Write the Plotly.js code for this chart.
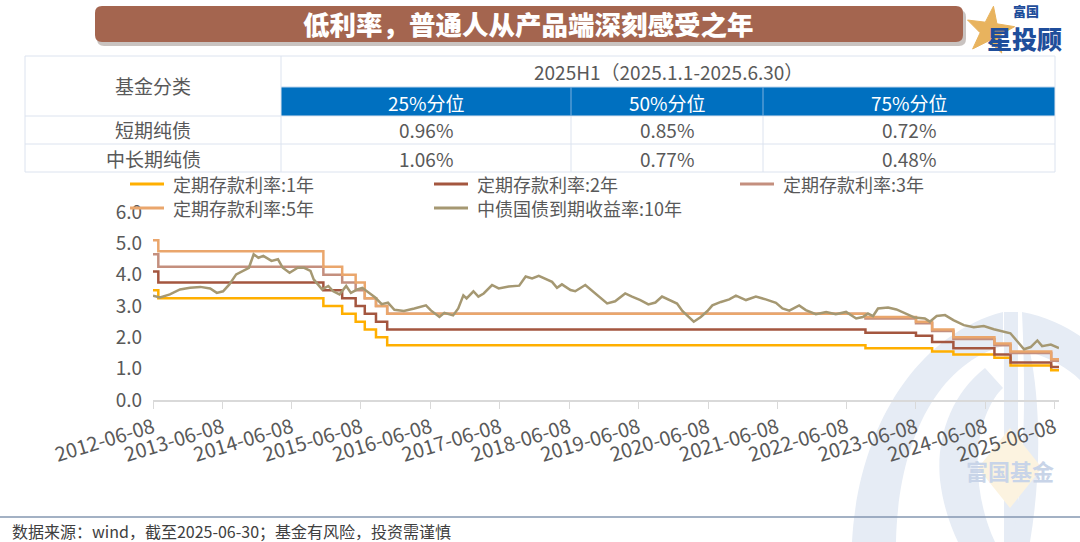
<!DOCTYPE html>
<html><head><meta charset="utf-8">
<script src="https://cdn.plot.ly/plotly-3.0.1.min.js"></script>
<style>
html,body{margin:0;padding:0;background:#fff;}
#chart{width:1080px;height:542px;}
</style></head><body><div id="chart"></div><script>
// ---------- data ----------
const rateDates = ['2012-06-08','2012-07-06','2014-11-22','2015-03-01','2015-05-11','2015-06-28','2015-08-26','2015-10-24','2022-09-15','2023-06-08','2023-09-01','2023-12-22','2024-07-25','2024-10-18','2025-05-20','2025-06-30'];
const dep1Y = [3.50,3.25,3.00,2.75,2.50,2.25,2.00,1.75,1.65,1.65,1.55,1.45,1.35,1.10,0.95,0.95];
const dep2Y = [4.10,3.75,3.50,3.25,3.00,2.75,2.50,2.25,2.15,2.05,1.85,1.65,1.45,1.20,1.05,1.05];
const dep3Y = [4.65,4.25,4.00,3.75,3.50,3.25,3.00,2.75,2.60,2.45,2.20,1.95,1.75,1.50,1.25,1.25];
const dep5Y = [5.10,4.75,4.25,4.00,3.75,3.25,3.00,2.75,2.65,2.50,2.25,2.00,1.80,1.55,1.30,1.30];

const bondDates = ['2012-06-08','2012-07-15','2012-09-05','2012-10-28','2012-12-20','2013-02-12','2013-04-05','2013-05-10','2013-06-12','2013-07-15','2013-08-20','2013-09-22','2013-10-26','2013-11-20','2013-12-15','2014-01-10','2014-02-22','2014-03-28','2014-04-22','2014-05-28','2014-07-10','2014-08-13','2014-09-15','2014-10-02','2014-10-28','2014-11-15','2014-12-18','2015-01-13','2015-02-15','2015-03-22','2015-04-16','2015-05-20','2015-06-15','2015-07-18','2015-08-22','2015-09-25','2015-10-28','2015-12-01','2016-01-20','2016-03-15','2016-05-15','2016-06-10','2016-07-25','2016-08-20','2016-10-05','2016-11-01','2016-11-28','2016-12-15','2017-01-20','2017-02-15','2017-03-15','2017-04-28','2017-06-02','2017-07-25','2017-09-18','2017-10-22','2017-11-25','2017-12-30','2018-02-05','2018-03-10','2018-04-05','2018-05-01','2018-06-15','2018-07-10','2018-09-01','2018-10-15','2018-11-20','2018-12-25','2019-02-05','2019-03-30','2019-05-05','2019-06-18','2019-07-30','2019-09-05','2019-10-10','2019-11-22','2019-12-28','2020-01-25','2020-02-28','2020-03-25','2020-05-01','2020-06-05','2020-07-01','2020-08-15','2020-09-28','2020-11-02','2020-12-25','2021-02-15','2021-04-08','2021-06-01','2021-07-05','2021-08-10','2021-10-01','2021-11-05','2021-12-28','2022-02-20','2022-04-12','2022-06-05','2022-07-28','2022-09-01','2022-09-28','2022-10-25','2022-11-20','2023-01-12','2023-02-25','2023-04-18','2023-06-01','2023-07-25','2023-08-20','2023-09-25','2023-11-08','2023-12-22','2024-02-15','2024-04-07','2024-05-30','2024-07-22','2024-09-12','2024-10-17','2024-12-01','2024-12-28','2025-02-01','2025-03-08','2025-04-02','2025-05-18','2025-06-30'];
const bond10Y = [3.33,3.27,3.37,3.53,3.58,3.61,3.56,3.42,3.47,3.69,4.01,4.12,4.22,4.65,4.54,4.60,4.44,4.49,4.22,4.06,4.22,4.22,4.12,3.85,3.64,3.53,3.64,3.47,3.37,3.64,3.42,3.53,3.58,3.42,3.27,3.06,3.11,2.88,2.84,2.92,3.02,2.86,2.65,2.78,2.70,2.92,3.34,3.24,3.47,3.30,3.40,3.67,3.56,3.62,3.65,3.94,3.88,3.96,3.86,3.77,3.58,3.69,3.51,3.47,3.67,3.45,3.24,3.08,3.15,3.40,3.30,3.19,3.05,3.11,3.30,3.19,3.08,2.84,2.65,2.50,2.65,2.84,3.02,3.13,3.21,3.33,3.19,3.30,3.21,3.10,2.92,2.85,3.02,2.87,2.74,2.81,2.74,2.81,2.60,2.65,2.76,2.68,2.92,2.95,2.89,2.74,2.63,2.60,2.50,2.68,2.71,2.55,2.39,2.32,2.36,2.26,2.18,2.13,1.81,1.62,1.69,1.90,1.72,1.77,1.66];

const seriesNames = ['定期存款利率:1年','定期存款利率:2年','定期存款利率:3年','定期存款利率:5年','中债国债到期收益率:10年'];
const seriesColors = ['#FFAF00','#A4563F','#C48F7E','#EAA66C','#A59872'];

const tickDates = ['2012-06-08','2013-06-08','2014-06-08','2015-06-08','2016-06-08','2017-06-08','2018-06-08','2019-06-08','2020-06-08','2021-06-08','2022-06-08','2023-06-08','2024-06-08','2025-06-08'];
const tickLabels = tickDates.slice();

const chartTitle = '低利率，普通人从产品端深刻感受之年';
const tablePeriod = '2025H1（2025.1.1-2025.6.30）';
const tableHeadCol = '基金分类';
const tableQuantiles = ['25%分位','50%分位','75%分位'];
const tableRows = ['短期纯债','中长期纯债'];
const tableValues = [['0.96%','0.85%','0.72%'],['1.06%','0.77%','0.48%']];
const footerText = '数据来源：wind，截至2025-06-30；基金有风险，投资需谨慎';

// ---------- geometry helpers ----------
const W = 1080, H = 542;
const fx = x => x / W;
const fy = y => 1 - y / H;
function rrect(x0,y0,x1,y1,r){
  return `M${fx(x0+r)},${fy(y0)} L${fx(x1-r)},${fy(y0)} Q${fx(x1)},${fy(y0)} ${fx(x1)},${fy(y0+r)} L${fx(x1)},${fy(y1-r)} Q${fx(x1)},${fy(y1)} ${fx(x1-r)},${fy(y1)} L${fx(x0+r)},${fy(y1)} Q${fx(x0)},${fy(y1)} ${fx(x0)},${fy(y1-r)} L${fx(x0)},${fy(y0+r)} Q${fx(x0)},${fy(y0)} ${fx(x0+r)},${fy(y0)} Z`;
}
function pth(str){ // pixel path -> paper path
  return str.replace(/(-?\d+\.?\d*),(-?\d+\.?\d*)/g,(m,a,b)=>fx(+a)+','+fy(+b));
}
function starPath(cx,cy,ro,ri,rot){
  let s='';
  for(let i=0;i<10;i++){
    const r = i%2===0?ro:ri;
    const a = (rot + i*36) * Math.PI/180;
    const x = cx + r*Math.sin(a), y = cy - r*Math.cos(a);
    s += (i===0?'M':'L') + fx(x) + ',' + fy(y) + ' ';
  }
  return s+'Z';
}
function hline(x0,x1,y,color,w){return {type:'line',xref:'paper',yref:'paper',x0:fx(x0),x1:fx(x1),y0:fy(y),y1:fy(y),line:{color:color,width:w||1}};}
function vline(x,y0,y1,color,w){return {type:'line',xref:'paper',yref:'paper',x0:fx(x),x1:fx(x),y0:fy(y0),y1:fy(y1),line:{color:color,width:w||1}};}
function ann(text,x,y,size,color,opts){
  return Object.assign({text:text,xref:'paper',yref:'paper',x:fx(x),y:fy(y),showarrow:false,xanchor:'center',yanchor:'middle',
    font:{family:'Noto Sans CJK SC, Noto Sans, sans-serif',size:size,color:color}},opts||{});
}

// ---------- traces ----------
const depSeries = [dep1Y,dep2Y,dep3Y,dep5Y];
const traces = depSeries.map((v,i)=>({
  type:'scatter',mode:'lines',x:rateDates,y:v,name:seriesNames[i],
  line:{shape:'hv',color:seriesColors[i],width:2.5},hoverinfo:'skip'
}));
traces.push({type:'scatter',mode:'lines',x:bondDates,y:bond10Y,name:seriesNames[4],
  line:{color:seriesColors[4],width:2.5},hoverinfo:'skip'});

// ---------- shapes ----------
const shapes = [];
const WM = '#E6ECF5';
// watermark
shapes.push({type:'path',xref:'paper',yref:'paper',layer:'below',fillcolor:WM,line:{width:0},
  path:pth('M852,542 C858,430 915,335 1003,312 L1003,346 C935,365 898,445 896,542 Z')});
shapes.push({type:'path',xref:'paper',yref:'paper',layer:'below',fillcolor:WM,line:{width:0},
  path:pth('M985,368 C950,395 936,440 940,480 C943,505 950,525 958,542 L995,542 C982,515 976,480 978,450 C981,420 992,398 1003,388 Z')});
shapes.push({type:'path',xref:'paper',yref:'paper',layer:'below',fillcolor:WM,line:{width:0},
  path:pth('M1004,312 L1018,312 L1018,542 L1004,542 Z')});
shapes.push({type:'path',xref:'paper',yref:'paper',layer:'below',fillcolor:WM,line:{width:0},
  path:pth('M1022,312 C1045,316 1065,326 1080,336 L1080,380 C1068,368 1050,358 1030,352 C1040,400 1042,470 1030,542 L1012,542 C1025,470 1026,400 1022,312 Z')});
shapes.push({type:'path',xref:'paper',yref:'paper',layer:'below',fillcolor:'#FCF3E0',line:{width:0},
  path:pth('M1010,428 L1042,468 L1010,508 L978,468 Z')});

// banner
shapes.push({type:'path',xref:'paper',yref:'paper',fillcolor:'rgba(60,40,30,0.28)',line:{width:0},path:rrect(97,10,966,46,7)});
shapes.push({type:'path',xref:'paper',yref:'paper',fillcolor:'#A4654F',line:{width:0},path:rrect(95,6,963,42,7)});
// logo star
shapes.push({type:'path',xref:'paper',yref:'paper',fillcolor:'#E8B35E',line:{color:'#E8B35E',width:1},path:starPath(990,31,25,10,8)});

// table
const TB = '#DCE3EF';
shapes.push({type:'rect',xref:'paper',yref:'paper',x0:fx(281),x1:fx(1055),y0:fy(116),y1:fy(87),fillcolor:'#0070C0',line:{width:0}});
shapes.push(hline(25,1055,56,TB));
shapes.push(hline(281,1055,87,'#BCD3EC'));
shapes.push(hline(25,1055,116,TB));
shapes.push(hline(25,1055,144,TB));
shapes.push(hline(25,1055,172,TB));
shapes.push(vline(25,56,172,TB));
shapes.push(vline(1055,56,172,TB));
shapes.push(vline(281,56,172,TB));
shapes.push(vline(571,87,116,'#7DB0DE'));
shapes.push(vline(763,87,116,'#7DB0DE'));
shapes.push(vline(571,116,172,TB));
shapes.push(vline(763,116,172,TB));

// footer line
shapes.push(hline(0,1080,517,'#8497B0',1.5));

// ---------- legend (drawn as keys) ----------
const legendPos = [[130,184],[434,184],[740,184],[130,208],[434,208]];
const TXT = '#595959';
const annotations = [];
annotations.push(ann(chartTitle,528,24,26.5,'#FFFFFF',{font:{family:'Noto Sans CJK SC',size:26.5,color:'#FFFFFF',weight:900}}));
seriesNames.forEach((n,i)=>{
  const [lx,ly] = legendPos[i];
  shapes.push(hline(lx,lx+34,ly,seriesColors[i],3));
  annotations.push(ann(n,lx+41,ly,18,TXT,{xanchor:'left'}));
});

// ---------- annotations ----------
annotations.push(ann(tableHeadCol,153,86,19,TXT));
annotations.push(ann(tablePeriod,668,72,19,TXT));
const colC = [426,667,909];
tableQuantiles.forEach((q,i)=>annotations.push(ann(q,colC[i],102,19,'#FFFFFF')));
tableRows.forEach((r,j)=>{
  annotations.push(ann(r,153,130+28*j,19,TXT));
  tableValues[j].forEach((v,i)=>annotations.push(ann(v,colC[i],130+28*j,19,TXT)));
});
annotations.push(ann(footerText,10,531,16,'#404040',{xanchor:'left'}));
// logo text
annotations.push(ann('富国',1026,11,13,'#1F4E9B',{font:{family:'Noto Sans CJK SC',size:13,color:'#1F4E9B',weight:900}}));
annotations.push(ann('星投顾',1024,38,25,'#1F4E9B',{font:{family:'Noto Sans CJK SC',size:25,color:'#1F4E9B',weight:900}}));
// watermark text
annotations.push(ann('富国基金',1010,470,22,'#C8D4E8',{font:{family:'Noto Sans CJK SC',size:22,color:'#C8D4E8',weight:700}}));

const layout = {
  width:W,height:H,margin:{l:0,r:0,t:0,b:0},
  paper_bgcolor:'#FFFFFF',plot_bgcolor:'rgba(0,0,0,0)',
  font:{family:'Noto Sans CJK SC, Noto Sans, sans-serif',color:TXT},
  showlegend:false,
  xaxis:{type:'date',domain:[fx(153),fx(1059)],range:['2012-06-08','2025-06-30'],
    tickvals:tickDates,ticktext:tickLabels,tickangle:-17,tickfont:{size:20,color:TXT},
    showgrid:false,zeroline:false,showline:true,linecolor:'#D9D9D9',linewidth:1.5,
    ticks:'outside',ticklen:7,tickcolor:'#D9D9D9',tickwidth:1,fixedrange:true},
  yaxis:{domain:[1-400/H,1-212/H],range:[0,6],dtick:1,tick0:0,tickformat:'.1f',
    showgrid:false,zeroline:false,showline:false,ticks:'',ticklabelstandoff:10,
    tickfont:{size:19,color:TXT},fixedrange:true},
  shapes:shapes,annotations:annotations
};
Plotly.newPlot('chart',traces,layout,{displayModeBar:false,staticPlot:true});
</script></body></html>
